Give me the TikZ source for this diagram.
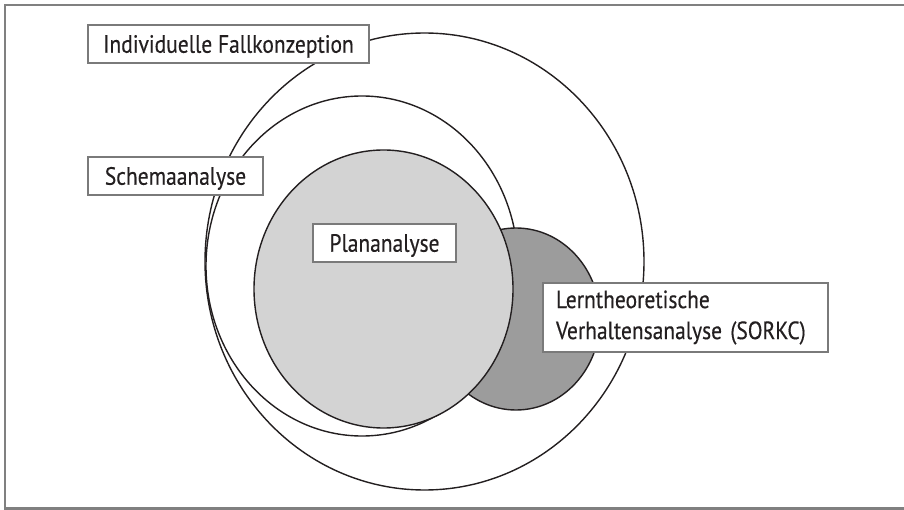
\documentclass[tikz,border=0pt]{standalone}
\usepackage{fontspec}
\usetikzlibrary{shapes.geometric}
\newfontfamily\lblfont[FakeStretch=0.86,FakeBold=0.35]{PT Sans}
\definecolor{framegray}{HTML}{808080}
\definecolor{boxgray}{HTML}{7A7A7A}
\definecolor{inkc}{HTML}{231F20}
\definecolor{planfill}{HTML}{D3D3D3}
\definecolor{sorkcfill}{HTML}{9C9C9C}
\begin{document}
\begin{tikzpicture}[x=1pt,y=-1pt,
  ring/.style={draw=inkc,line width=1.4pt,ellipse,inner sep=0pt},
  labelbox/.style={draw=boxgray,line width=2.6pt,fill=white,text=inkc,
    inner sep=0pt,font=\fontsize{25}{31}\lblfont,
    text height=17.5pt,text depth=0pt,align=center},
  framel/.style={draw=framegray,line width=2.6pt}]
\useasboundingbox (0,0) rectangle (904,510);
% frame (left, top, bottom)
\coordinate (ftr) at (906,5);
\coordinate (ftl) at (5,5);
\coordinate (fbl) at (5,508.5);
\coordinate (fbr) at (906,508.5);
\draw[framel] (ftr) -- (ftl) -- (fbl) -- (fbr);
% circles
\node[ring,minimum width=439pt,minimum height=457pt] (outer) at (424.5,261.5) {};
\node[ring,minimum width=312pt,minimum height=340pt] (schema) at (362,266) {};
\node[ring,fill=sorkcfill,minimum width=168pt,minimum height=182pt] (sorkc) at (516,319) {};
\node[ring,fill=planfill,minimum width=259pt,minimum height=278pt] (plan) at (383.5,289) {};
% labels
\node[labelbox,minimum width=281pt,minimum height=38pt] (lfall) at (228.5,44) {Individuelle Fallkonzeption};
\node[labelbox,minimum width=175pt,minimum height=38pt] (lschema) at (175.5,176) {Schemaanalyse};
\node[labelbox,minimum width=143pt,minimum height=38pt] (lplan) at (384.5,243) {Plananalyse};
\node[draw=boxgray,line width=2.6pt,fill=white,text=inkc,inner sep=0pt,
  font=\fontsize{25}{31}\lblfont,align=left,
  minimum width=285pt,minimum height=69pt,text width=259pt] (lsorkc) at (685.5,317.5)
  {Lerntheoretische\\Verhaltensanalyse (SORKC)};
\end{tikzpicture}
\end{document}
